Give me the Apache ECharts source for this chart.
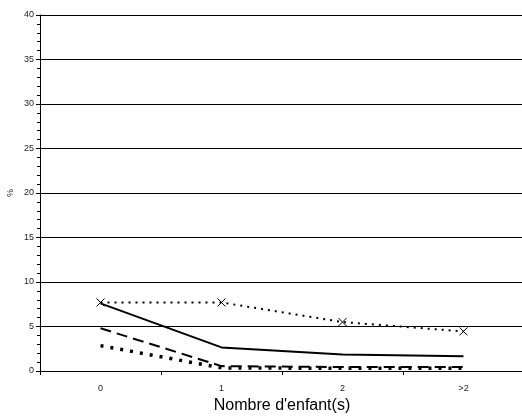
<!DOCTYPE html>
<html><head><meta charset="utf-8">
<script src="https://cdn.jsdelivr.net/npm/echarts@6/dist/echarts.min.js"></script>
<style>html,body{margin:0;padding:0;background:#fff}#c{width:522px;height:417px}</style>
</head><body><div id="c"></div>
<script>
var categories = ['0', '1', '2', '>2'];
var seriesSolid = [7.6, 2.65, 1.85, 1.65];
var seriesCross = [7.7, 7.7, 5.5, 4.45];
var seriesDash = [4.8, 0.55, 0.45, 0.45];
var seriesBoldDot = [2.85, 0.35, 0.3, 0.3];
var yTicks = [0, 5, 10, 15, 20, 25, 30, 35, 40];

var chart = echarts.init(document.getElementById('c'), null, {renderer: 'canvas'});
var font = 'Liberation Sans, Arial, sans-serif';
chart.setOption({
  animation: false,
  grid: {left: 40, top: 15, width: 484, height: 356, containLabel: false, outerBoundsMode: 'none'},
  xAxis: {
    type: 'category', data: categories, boundaryGap: true,
    name: "Nombre d'enfant(s)", nameLocation: 'middle', nameGap: 22,
    nameTextStyle: {fontFamily: font, fontSize: 16, color: '#000', letterSpacing: -0.9},
    axisLine: {lineStyle: {color: '#000', width: 1}},
    axisTick: {show: true, length: 4, lineStyle: {color: '#000'}},
    axisLabel: {fontFamily: font, fontSize: 9, color: '#222', margin: 13},
    splitLine: {show: false}
  },
  yAxis: {
    type: 'value', min: yTicks[0], max: yTicks[yTicks.length - 1], interval: 5,
    name: '%', nameLocation: 'middle', nameGap: 25, nameRotate: 90, nameMoveOverlap: false,
    nameTextStyle: {fontFamily: font, fontSize: 9, color: '#222'},
    axisLine: {show: true, lineStyle: {color: '#000', width: 1}},
    axisTick: {show: true, inside: false, length: 4, lineStyle: {color: '#000'}},
    minorTick: {show: true, splitNumber: 5, length: 3, lineStyle: {color: '#000'}},
    axisLabel: {fontFamily: font, fontSize: 9, color: '#222', margin: 6},
    splitLine: {show: true, lineStyle: {color: '#000', width: 1}}
  },
  series: [
    {type: 'line', data: seriesSolid, symbol: 'none', lineStyle: {color: '#000', width: 2, type: 'solid'}, z: 3},
    {type: 'line', data: seriesCross, symbol: 'path://M0,0L10,10M10,0L0,10', symbolSize: 8,
      itemStyle: {color: 'none', borderColor: '#000', borderWidth: 1},
      lineStyle: {color: '#000', width: 2, type: [2, 5]}, z: 4},
    {type: 'line', data: seriesDash, symbol: 'none', lineStyle: {color: '#000', width: 2, type: [11, 6]}, z: 3},
    {type: 'line', data: seriesBoldDot, symbol: 'none', lineStyle: {color: '#000', width: 3.5, type: [3, 7]}, z: 3}
  ]
});
</script></body></html>
